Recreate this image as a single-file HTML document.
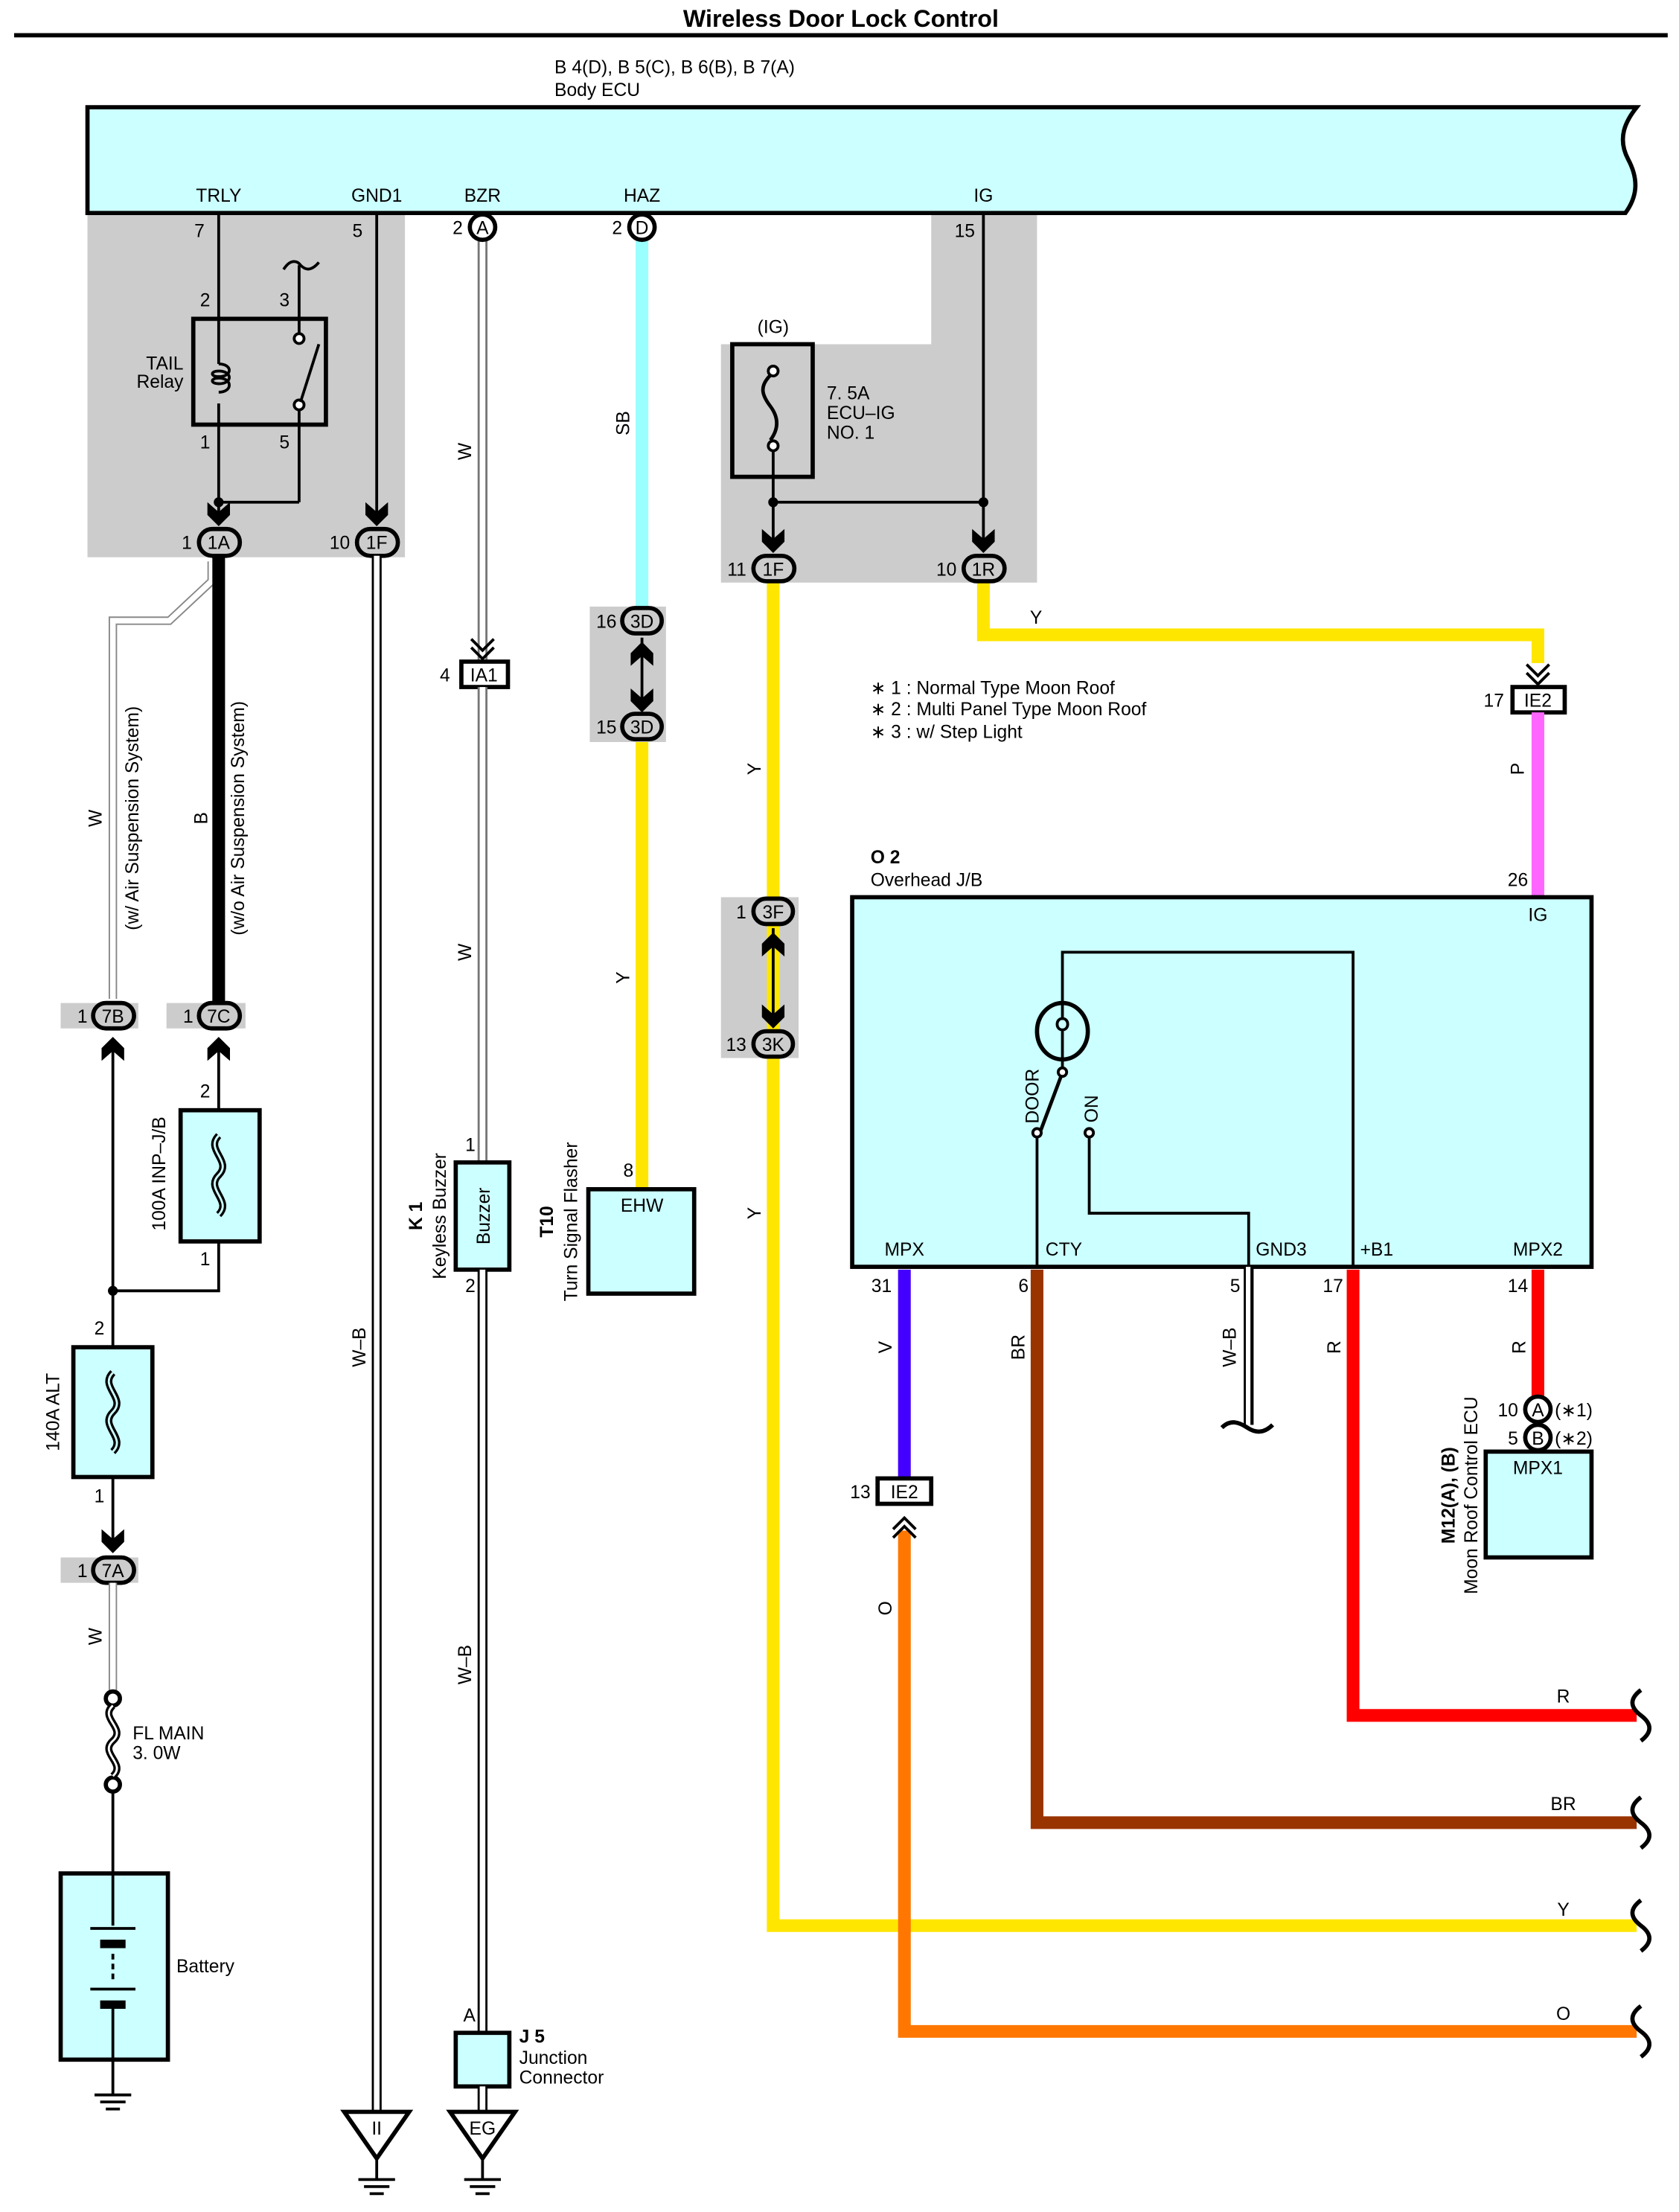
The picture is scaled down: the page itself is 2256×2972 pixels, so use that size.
<!DOCTYPE html>
<html><head><meta charset="utf-8"><style>
html,body{margin:0;padding:0;background:#fff}
svg{display:block}
text{font-family:"Liberation Sans",sans-serif;font-size:13px;fill:#000}
.b{font-weight:bold}
</style></head><body>
<svg width="2256" height="2972" viewBox="0 0 1190 1568" preserveAspectRatio="none" xmlns="http://www.w3.org/2000/svg">
<defs>
<g id="ad"><polygon points="-8,-14 0,-7 8,-14 8,-5 0,3 -8,-5" fill="#000"/></g>
<g id="au"><polygon points="-8,14 0,7 8,14 8,5 0,-3 -8,5" fill="#000"/></g>
<g id="dc"><polyline points="-8,-12 0,-4 8,-12" fill="none" stroke="#000" stroke-width="2"/><polyline points="-8,-6 0,2 8,-6" fill="none" stroke="#000" stroke-width="2"/></g>
<g id="uc"><polyline points="-8,12 0,4 8,12" fill="none" stroke="#000" stroke-width="2"/><polyline points="-8,6 0,-2 8,6" fill="none" stroke="#000" stroke-width="2"/></g>
<g id="gnd"><line x1="-13" y1="0" x2="13" y2="0" stroke="#000" stroke-width="2"/><line x1="-9" y1="5" x2="9" y2="5" stroke="#000" stroke-width="2"/><line x1="-5" y1="10" x2="5" y2="10" stroke="#000" stroke-width="2"/></g>
<g id="wave"><path d="M0,-18 c-8,6 -8,12 0,18 c8,6 8,12 0,18" fill="none" stroke="#000" stroke-width="3"/></g>
</defs>
<rect width="1190" height="1568" fill="#fff"/>
<!-- title -->
<text x="596" y="19" text-anchor="middle" class="b" style="font-size:17px">Wireless Door Lock Control</text>
<line x1="10" y1="25" x2="1182" y2="25" stroke="#000" stroke-width="3"/>
<text x="393" y="52">B 4(D), B 5(C), B 6(B), B 7(A)</text>
<text x="393" y="68">Body ECU</text>

<!-- gray areas -->
<rect x="62" y="151" width="225" height="244" fill="#ccc"/>
<path d="M660,151 H735 V413 H511 V244 H660 Z" fill="#ccc"/>
<rect x="418" y="430" width="54" height="96" fill="#ccc"/>
<rect x="511" y="636" width="55" height="114" fill="#ccc"/>
<rect x="43" y="711" width="55" height="18" fill="#ccc"/>
<rect x="118" y="711" width="56" height="18" fill="#ccc"/>
<rect x="43" y="1104" width="55" height="18" fill="#ccc"/>

<!-- ECU box -->
<path d="M62,76 H1160 c-8,10 -14,22 -6,37 c8,15 6,27 -2,38 H62 Z" fill="#ccffff" stroke="#000" stroke-width="3"/>
<text x="155" y="143" text-anchor="middle">TRLY</text>
<text x="267" y="143" text-anchor="middle">GND1</text>
<text x="342" y="143" text-anchor="middle">BZR</text>
<text x="455" y="143" text-anchor="middle">HAZ</text>
<text x="697" y="143" text-anchor="middle">IG</text>

<!-- TRLY / relay -->
<text x="145" y="168" text-anchor="end">7</text>
<text x="257" y="168" text-anchor="end">5</text>
<line x1="155" y1="151" x2="155" y2="370" stroke="#000" stroke-width="2"/>
<text x="149" y="217" text-anchor="end">2</text>
<text x="198" y="217">3</text>
<path d="M201,191 c5,-8 10,-6 12,-3 c3,3 7,5 13,-2" fill="none" stroke="#000" stroke-width="2"/>
<line x1="212" y1="188" x2="212" y2="236" stroke="#000" stroke-width="2"/>
<rect x="137" y="226" width="94" height="75" fill="none" stroke="#000" stroke-width="3"/>
<rect x="152" y="258" width="10" height="28" fill="#ccc"/>
<path d="M155,258 c10,0 10,9 0,9 c-6,0 -6,-4 0,-4 c10,0 10,9 0,9 c-6,0 -6,-4 0,-4 c10,0 10,10 0,10" fill="none" stroke="#000" stroke-width="2"/>
<circle cx="212" cy="240" r="3.5" fill="#fff" stroke="#000" stroke-width="2"/>
<circle cx="212" cy="287" r="3.5" fill="#fff" stroke="#000" stroke-width="2"/>
<line x1="213" y1="285" x2="226" y2="244" stroke="#000" stroke-width="2"/>
<line x1="212" y1="291" x2="212" y2="356" stroke="#000" stroke-width="2"/>
<line x1="155" y1="356" x2="212" y2="356" stroke="#000" stroke-width="2"/>
<circle cx="155" cy="356" r="3.5" fill="#000"/>
<text x="130" y="262" text-anchor="end">TAIL</text>
<text x="130" y="275" text-anchor="end">Relay</text>
<text x="149" y="318" text-anchor="end">1</text>
<text x="198" y="318">5</text>
<use href="#ad" x="155" y="370"/>
<line x1="267" y1="151" x2="267" y2="370" stroke="#000" stroke-width="2"/>
<use href="#ad" x="267" y="370"/>

<!-- W wire from 1A (w/ Air Susp) -->
<path d="M150,398 L150,412 L120,440 L80,440 L80,708" fill="none" stroke="#888" stroke-width="6"/>
<path d="M150,398 L150,412 L120,440 L80,440 L80,708" fill="none" stroke="#fff" stroke-width="4"/>
<!-- B wire -->
<line x1="155" y1="393" x2="155" y2="711" stroke="#000" stroke-width="9"/>
<text transform="translate(72,580) rotate(-90)" text-anchor="middle">W</text>
<text transform="translate(98,580) rotate(-90)" text-anchor="middle">(w/ Air Suspension System)</text>
<text transform="translate(147,580) rotate(-90)" text-anchor="middle">B</text>
<text transform="translate(173,580) rotate(-90)" text-anchor="middle">(w/o Air Suspension System)</text>

<!-- connectors 1A 1F -->
<rect x="141" y="375" width="29" height="19" rx="9.5" fill="#ccc" stroke="#000" stroke-width="3"/>
<text x="155" y="389" text-anchor="middle">1A</text><text x="136" y="389" text-anchor="end">1</text>
<rect x="253" y="375" width="29" height="19" rx="9.5" fill="#ccc" stroke="#000" stroke-width="3"/>
<text x="267" y="389" text-anchor="middle">1F</text><text x="248" y="389" text-anchor="end">10</text>

<!-- 7B 7C -->
<rect x="66" y="711" width="29" height="18" rx="9" fill="#ccc" stroke="#000" stroke-width="3"/>
<text x="80" y="725" text-anchor="middle">7B</text><text x="62" y="725" text-anchor="end">1</text>
<rect x="141" y="711" width="29" height="18" rx="9" fill="#ccc" stroke="#000" stroke-width="3"/>
<text x="155" y="725" text-anchor="middle">7C</text><text x="137" y="725" text-anchor="end">1</text>
<use href="#au" x="80" y="738"/>
<use href="#au" x="155" y="738"/>
<line x1="80" y1="740" x2="80" y2="955" stroke="#000" stroke-width="2"/>
<line x1="155" y1="740" x2="155" y2="787" stroke="#000" stroke-width="2"/>
<!-- 100A fuse -->
<rect x="128" y="787" width="56" height="93" fill="#ccffff" stroke="#000" stroke-width="3"/>
<path d="M155,805 c-10,10 10,18 0,28 c-10,10 10,18 0,28" fill="none" stroke="#000" stroke-width="5"/>
<path d="M155,805 c-10,10 10,18 0,28 c-10,10 10,18 0,28" fill="none" stroke="#ccffff" stroke-width="1.5"/>
<text x="149" y="778" text-anchor="end">2</text>
<text x="149" y="897" text-anchor="end">1</text>
<text transform="translate(117,832) rotate(-90)" text-anchor="middle">100A INP–J/B</text>
<polyline points="155,880 155,915 80,915" fill="none" stroke="#000" stroke-width="2"/>
<circle cx="80" cy="915" r="3.5" fill="#000"/>
<!-- 140A ALT -->
<rect x="52" y="955" width="56" height="92" fill="#ccffff" stroke="#000" stroke-width="3"/>
<path d="M80,973 c-10,10 10,18 0,28 c-10,10 10,18 0,28" fill="none" stroke="#000" stroke-width="5"/>
<path d="M80,973 c-10,10 10,18 0,28 c-10,10 10,18 0,28" fill="none" stroke="#ccffff" stroke-width="1.5"/>
<text x="74" y="946" text-anchor="end">2</text>
<text x="74" y="1065" text-anchor="end">1</text>
<text transform="translate(42,1001) rotate(-90)" text-anchor="middle">140A ALT</text>
<line x1="80" y1="1047" x2="80" y2="1095" stroke="#000" stroke-width="2"/>
<use href="#ad" x="80" y="1098"/>
<rect x="66" y="1104" width="29" height="18" rx="9" fill="#ccc" stroke="#000" stroke-width="3"/>
<text x="80" y="1118" text-anchor="middle">7A</text><text x="62" y="1118" text-anchor="end">1</text>
<line x1="80" y1="1122" x2="80" y2="1198" stroke="#888" stroke-width="6"/>
<line x1="80" y1="1122" x2="80" y2="1198" stroke="#fff" stroke-width="4"/>
<text transform="translate(72,1160) rotate(-90)" text-anchor="middle">W</text>
<!-- FL main -->
<circle cx="80" cy="1204" r="5" fill="#fff" stroke="#000" stroke-width="3"/>
<circle cx="80" cy="1265" r="5" fill="#fff" stroke="#000" stroke-width="3"/>
<path d="M80,1209 c-10,9 10,16 0,25 c-10,9 10,16 0,25" fill="none" stroke="#000" stroke-width="5"/>
<path d="M80,1209 c-10,9 10,16 0,25 c-10,9 10,16 0,25" fill="none" stroke="#fff" stroke-width="1.5"/>
<text x="94" y="1233">FL MAIN</text>
<text x="94" y="1247">3. 0W</text>
<line x1="80" y1="1270" x2="80" y2="1328" stroke="#000" stroke-width="2"/>
<!-- battery -->
<rect x="43" y="1328" width="76" height="132" fill="#ccffff" stroke="#000" stroke-width="3"/>
<line x1="80" y1="1328" x2="80" y2="1365" stroke="#000" stroke-width="2"/>
<line x1="64" y1="1367" x2="96" y2="1367" stroke="#000" stroke-width="2"/>
<line x1="71" y1="1378" x2="89" y2="1378" stroke="#000" stroke-width="6"/>
<line x1="80" y1="1385" x2="80" y2="1405" stroke="#000" stroke-width="2" stroke-dasharray="4,3"/>
<line x1="64" y1="1410" x2="96" y2="1410" stroke="#000" stroke-width="2"/>
<line x1="71" y1="1421" x2="89" y2="1421" stroke="#000" stroke-width="6"/>
<line x1="80" y1="1424" x2="80" y2="1485" stroke="#000" stroke-width="2"/>
<text x="125" y="1398">Battery</text>
<use href="#gnd" x="80" y="1485"/>

<!-- GND1 W-B -->
<line x1="267" y1="394" x2="267" y2="1500" stroke="#000" stroke-width="7"/>
<line x1="267" y1="394" x2="267" y2="1500" stroke="#fff" stroke-width="4"/>
<text transform="translate(259,955) rotate(-90)" text-anchor="middle">W–B</text>
<polygon points="244,1497 290,1497 267,1530" fill="#fff" stroke="#000" stroke-width="3"/>
<text x="267" y="1513" text-anchor="middle">II</text>
<line x1="267" y1="1530" x2="267" y2="1545" stroke="#000" stroke-width="2"/>
<use href="#gnd" x="267" y="1545"/>

<!-- BZR -->
<line x1="342" y1="170" x2="342" y2="469" stroke="#777" stroke-width="7"/>
<line x1="342" y1="170" x2="342" y2="469" stroke="#fff" stroke-width="4"/>
<circle cx="342" cy="161" r="9" fill="#fff" stroke="#000" stroke-width="3"/>
<text x="342" y="166" text-anchor="middle">A</text><text x="328" y="166" text-anchor="end">2</text>
<text transform="translate(334,320) rotate(-90)" text-anchor="middle">W</text>
<use href="#dc" x="342" y="465"/>
<rect x="327" y="469" width="33" height="18" fill="#fff" stroke="#000" stroke-width="3"/>
<text x="343" y="483" text-anchor="middle">IA1</text><text x="319" y="483" text-anchor="end">4</text>
<line x1="342" y1="487" x2="342" y2="824" stroke="#777" stroke-width="7"/>
<line x1="342" y1="487" x2="342" y2="824" stroke="#fff" stroke-width="4"/>
<text transform="translate(334,675) rotate(-90)" text-anchor="middle">W</text>
<text x="337" y="816" text-anchor="end">1</text>
<rect x="323" y="824" width="38" height="76" fill="#ccffff" stroke="#000" stroke-width="3"/>
<text transform="translate(347,862) rotate(-90)" text-anchor="middle">Buzzer</text>
<text transform="translate(299,862) rotate(-90)" text-anchor="middle" class="b">K 1</text>
<text transform="translate(316,862) rotate(-90)" text-anchor="middle">Keyless Buzzer</text>
<text x="337" y="916" text-anchor="end">2</text>
<line x1="342" y1="900" x2="342" y2="1441" stroke="#000" stroke-width="7"/>
<line x1="342" y1="900" x2="342" y2="1441" stroke="#fff" stroke-width="4"/>
<text transform="translate(334,1180) rotate(-90)" text-anchor="middle">W–B</text>
<text x="337" y="1433" text-anchor="end">A</text>
<rect x="323" y="1441" width="38" height="38" fill="#ccffff" stroke="#000" stroke-width="3"/>
<text x="368" y="1448" class="b">J 5</text>
<text x="368" y="1463">Junction</text>
<text x="368" y="1477">Connector</text>
<line x1="342" y1="1479" x2="342" y2="1497" stroke="#000" stroke-width="7"/>
<line x1="342" y1="1479" x2="342" y2="1497" stroke="#fff" stroke-width="4"/>
<polygon points="319,1497 365,1497 342,1530" fill="#fff" stroke="#000" stroke-width="3"/>
<text x="342" y="1513" text-anchor="middle">EG</text>
<line x1="342" y1="1530" x2="342" y2="1545" stroke="#000" stroke-width="2"/>
<use href="#gnd" x="342" y="1545"/>

<!-- HAZ -->
<line x1="455" y1="170" x2="455" y2="430" stroke="#99ffff" stroke-width="9"/>
<circle cx="455" cy="161" r="9" fill="#fff" stroke="#000" stroke-width="3"/>
<text x="455" y="166" text-anchor="middle">D</text><text x="441" y="166" text-anchor="end">2</text>
<text transform="translate(446,300) rotate(-90)" text-anchor="middle">SB</text>
<rect x="441" y="431" width="28" height="18" rx="9" fill="#ccc" stroke="#000" stroke-width="3"/>
<text x="455" y="445" text-anchor="middle">3D</text><text x="437" y="445" text-anchor="end">16</text>
<line x1="455" y1="452" x2="455" y2="504" stroke="#000" stroke-width="2"/>
<use href="#au" x="455" y="458"/><use href="#ad" x="455" y="502"/>
<rect x="441" y="506" width="28" height="18" rx="9" fill="#ccc" stroke="#000" stroke-width="3"/>
<text x="455" y="520" text-anchor="middle">3D</text><text x="437" y="520" text-anchor="end">15</text>
<line x1="455" y1="526" x2="455" y2="843" stroke="#ffe600" stroke-width="9"/>
<text transform="translate(446,693) rotate(-90)" text-anchor="middle">Y</text>
<text x="449" y="834" text-anchor="end">8</text>
<rect x="417" y="843" width="75" height="74" fill="#ccffff" stroke="#000" stroke-width="3"/>
<text x="455" y="859" text-anchor="middle">EHW</text>
<text transform="translate(392,866) rotate(-90)" text-anchor="middle" class="b">T10</text>
<text transform="translate(409,866) rotate(-90)" text-anchor="middle">Turn Signal Flasher</text>

<!-- IG area -->
<text x="548" y="236" text-anchor="middle">(IG)</text>
<rect x="519" y="244" width="57" height="94" fill="none" stroke="#000" stroke-width="3"/>
<circle cx="548" cy="263" r="3.5" fill="#fff" stroke="#000" stroke-width="2"/>
<circle cx="548" cy="316" r="3.5" fill="#fff" stroke="#000" stroke-width="2"/>
<path d="M546,266 c-8,8 -6,14 0,22 c6,8 6,16 0,24" fill="none" stroke="#000" stroke-width="2.5"/>
<text x="586" y="283">7. 5A</text>
<text x="586" y="297">ECU–IG</text>
<text x="586" y="311">NO. 1</text>
<line x1="548" y1="320" x2="548" y2="390" stroke="#000" stroke-width="2"/>
<line x1="697" y1="151" x2="697" y2="390" stroke="#000" stroke-width="2"/>
<line x1="548" y1="356" x2="697" y2="356" stroke="#000" stroke-width="2"/>
<circle cx="548" cy="356" r="3.5" fill="#000"/><circle cx="697" cy="356" r="3.5" fill="#000"/>
<text x="691" y="168" text-anchor="end">15</text>
<use href="#ad" x="548" y="389"/><use href="#ad" x="697" y="389"/>
<!-- yellow wires -->
<polyline points="548,413 548,1365 1160,1365" fill="none" stroke="#ffe600" stroke-width="9"/>
<polyline points="697,413 697,450 1090,450 1090,470" fill="none" stroke="#ffe600" stroke-width="9"/>
<rect x="534" y="394" width="29" height="18" rx="9" fill="#ccc" stroke="#000" stroke-width="3"/>
<text x="548" y="408" text-anchor="middle">1F</text><text x="529" y="408" text-anchor="end">11</text>
<rect x="683" y="394" width="29" height="18" rx="9" fill="#ccc" stroke="#000" stroke-width="3"/>
<text x="697" y="408" text-anchor="middle">1R</text><text x="678" y="408" text-anchor="end">10</text>
<text x="730" y="442">Y</text>
<text transform="translate(539,545) rotate(-90)" text-anchor="middle">Y</text>
<text transform="translate(539,860) rotate(-90)" text-anchor="middle">Y</text>
<rect x="534" y="637" width="28" height="18" rx="9" fill="#ccc" stroke="#000" stroke-width="3"/>
<text x="548" y="651" text-anchor="middle">3F</text><text x="529" y="651" text-anchor="end">1</text>
<line x1="548" y1="658" x2="548" y2="728" stroke="#000" stroke-width="2"/>
<use href="#au" x="548" y="664"/><use href="#ad" x="548" y="726"/>
<rect x="534" y="731" width="28" height="18" rx="9" fill="#ccc" stroke="#000" stroke-width="3"/>
<text x="548" y="745" text-anchor="middle">3K</text><text x="529" y="745" text-anchor="end">13</text>

<!-- notes -->
<text x="617" y="492">∗ 1 : Normal Type Moon Roof</text>
<text x="617" y="507">∗ 2 : Multi Panel Type Moon Roof</text>
<text x="617" y="523">∗ 3 : w/ Step Light</text>

<!-- IE2 top -->
<use href="#dc" x="1090" y="483"/>
<rect x="1072" y="487" width="37" height="18" fill="#fff" stroke="#000" stroke-width="3"/>
<text x="1090" y="501" text-anchor="middle">IE2</text><text x="1066" y="501" text-anchor="end">17</text>
<line x1="1090" y1="505" x2="1090" y2="636" stroke="#ff66ff" stroke-width="9"/>
<text transform="translate(1080,545) rotate(-90)" text-anchor="middle">P</text>
<text x="1083" y="628" text-anchor="end">26</text>

<!-- O2 box -->
<text x="617" y="612" class="b">O 2</text>
<text x="617" y="628">Overhead J/B</text>
<rect x="604" y="636" width="524" height="262" fill="#ccffff" stroke="#000" stroke-width="3"/>
<text x="1090" y="653" text-anchor="middle">IG</text>
<polyline points="753,712 753,675 959,675 959,898" fill="none" stroke="#000" stroke-width="2"/>
<ellipse cx="753" cy="731" rx="18" ry="20" fill="none" stroke="#000" stroke-width="3"/>
<path d="M753,712 v10 c-5,0 -5,8 0,8 c5,0 5,-8 0,-8 M753,730 v20" fill="none" stroke="#000" stroke-width="2"/>
<line x1="753" y1="750" x2="753" y2="758" stroke="#000" stroke-width="2"/>
<circle cx="753" cy="760" r="3" fill="#fff" stroke="#000" stroke-width="2"/>
<line x1="752" y1="763" x2="737" y2="803" stroke="#000" stroke-width="2.5"/>
<circle cx="735" cy="803" r="3" fill="#fff" stroke="#000" stroke-width="2"/>
<circle cx="772" cy="803" r="3" fill="#fff" stroke="#000" stroke-width="2"/>
<text transform="translate(736,777) rotate(-90)" text-anchor="middle">DOOR</text>
<text transform="translate(778,786) rotate(-90)" text-anchor="middle">ON</text>
<line x1="735" y1="806" x2="735" y2="898" stroke="#000" stroke-width="2"/>
<polyline points="772,806 772,860 885,860 885,898" fill="none" stroke="#000" stroke-width="2"/>
<text x="641" y="890" text-anchor="middle">MPX</text>
<text x="741" y="890">CTY</text>
<text x="890" y="890">GND3</text>
<text x="964" y="890">+B1</text>
<text x="1090" y="890" text-anchor="middle">MPX2</text>

<!-- bottom wires -->
<polyline points="641,1085 641,1440 1160,1440" fill="none" stroke="#ff7700" stroke-width="9"/>
<polyline points="735,900 735,1292 1160,1292" fill="none" stroke="#993300" stroke-width="9"/>
<polyline points="959,900 959,1216 1160,1216" fill="none" stroke="#ff0000" stroke-width="9"/>
<line x1="1090" y1="900" x2="1090" y2="990" stroke="#ff0000" stroke-width="9"/>
<line x1="641" y1="900" x2="641" y2="1048" stroke="#4400ff" stroke-width="9"/>
<line x1="885" y1="898" x2="885" y2="1010" stroke="#000" stroke-width="7"/>
<line x1="885" y1="898" x2="885" y2="1010" stroke="#fff" stroke-width="4"/>
<line x1="885" y1="898" x2="885" y2="1010" stroke="#000" stroke-width="1.5" transform="translate(2,0)"/>
<path d="M866,1012 c6,-6 12,-4 18,0 c6,4 12,4 18,-2" fill="none" stroke="#000" stroke-width="3"/>
<text x="632" y="916" text-anchor="end">31</text>
<text x="729" y="916" text-anchor="end">6</text>
<text x="879" y="916" text-anchor="end">5</text>
<text x="952" y="916" text-anchor="end">17</text>
<text x="1083" y="916" text-anchor="end">14</text>
<text transform="translate(632,955) rotate(-90)" text-anchor="middle">V</text>
<text transform="translate(726,955) rotate(-90)" text-anchor="middle">BR</text>
<text transform="translate(876,955) rotate(-90)" text-anchor="middle">W–B</text>
<text transform="translate(950,955) rotate(-90)" text-anchor="middle">R</text>
<text transform="translate(1081,955) rotate(-90)" text-anchor="middle">R</text>
<rect x="622" y="1048" width="38" height="18" fill="#fff" stroke="#000" stroke-width="3"/>
<text x="641" y="1062" text-anchor="middle">IE2</text><text x="617" y="1062" text-anchor="end">13</text>
<use href="#uc" x="641" y="1078"/>
<text transform="translate(632,1140) rotate(-90)" text-anchor="middle">O</text>
<text x="1108" y="1207" text-anchor="middle">R</text>
<text x="1108" y="1283" text-anchor="middle">BR</text>
<text x="1108" y="1358" text-anchor="middle">Y</text>
<text x="1108" y="1432" text-anchor="middle">O</text>
<use href="#wave" x="1163" y="1216"/>
<use href="#wave" x="1163" y="1292"/>
<use href="#wave" x="1163" y="1365"/>
<use href="#wave" x="1163" y="1440"/>

<!-- M12 -->
<circle cx="1090" cy="999" r="9" fill="#fff" stroke="#000" stroke-width="3"/>
<text x="1090" y="1004" text-anchor="middle">A</text><text x="1076" y="1004" text-anchor="end">10</text>
<text x="1102" y="1004">(∗1)</text>
<circle cx="1090" cy="1019" r="9" fill="#fff" stroke="#000" stroke-width="3"/>
<text x="1090" y="1024" text-anchor="middle">B</text><text x="1076" y="1024" text-anchor="end">5</text>
<text x="1102" y="1024">(∗2)</text>
<rect x="1053" y="1029" width="75" height="75" fill="#ccffff" stroke="#000" stroke-width="3"/>
<text x="1090" y="1045" text-anchor="middle">MPX1</text>
<text transform="translate(1031,1060) rotate(-90)" text-anchor="middle" class="b">M12(A), (B)</text>
<text transform="translate(1047,1060) rotate(-90)" text-anchor="middle">Moon Roof Control ECU</text>
</svg>
</body></html>
